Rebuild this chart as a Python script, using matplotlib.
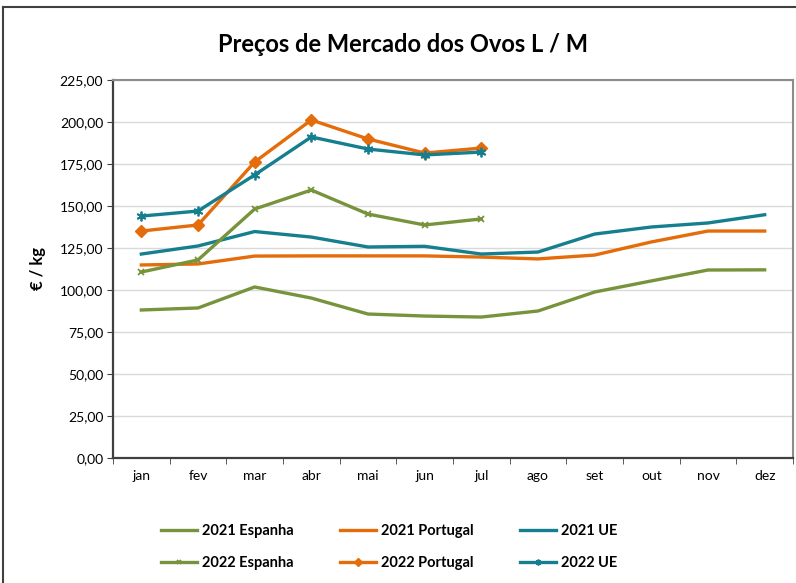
import matplotlib
matplotlib.use("Agg")
import matplotlib.pyplot as plt
from matplotlib.lines import Line2D

months = ["jan", "fev", "mar", "abr", "mai", "jun", "jul", "ago", "set", "out", "nov", "dez"]
esp_2021 = [88.1, 89.3, 101.8, 95.2, 85.7, 84.5, 83.9, 87.5, 98.8, 105.4, 111.9, 112.0]
por_2021 = [114.9, 115.5, 120.2, 120.3, 120.3, 120.3, 119.6, 118.5, 120.8, 128.6, 135.1, 135.1]
ue_2021 = [121.4, 126.2, 134.8, 131.5, 125.6, 126.0, 121.4, 122.6, 133.3, 137.5, 139.9, 144.8]
esp_2022 = [110.7, 117.9, 148.2, 159.5, 145.2, 138.7, 142.3]
por_2022 = [135.1, 138.7, 176.2, 201.2, 189.9, 181.5, 184.5]
ue_2022 = [144.0, 147.0, 168.5, 191.1, 183.9, 180.4, 182.1]
yticks = [0, 25, 50, 75, 100, 125, 150, 175, 200, 225]

GREEN = "#77933C"
ORANGE = "#E46C0A"
TEAL = "#157F8F"

plt.rcParams['font.family'] = ['Lato', 'DejaVu Sans']

fig = plt.figure(figsize=(7.96, 5.83), dpi=100)
ax = fig.add_axes([113/796, 1-458/583, (793-113)/796, (458-80)/583])

x = list(range(len(months)))
lw = 2.4
ax.plot(x, esp_2021, color=GREEN, lw=lw, label="2021 Espanha", zorder=3)
ax.plot(x, por_2021, color=ORANGE, lw=lw, label="2021 Portugal", zorder=3)
ax.plot(x, ue_2021, color=TEAL, lw=lw, label="2021 UE", zorder=3)
x2 = x[:len(esp_2022)]
ax.plot(x2, esp_2022, color=GREEN, lw=lw, marker="x", ms=5, mew=1.3, label="2022 Espanha", zorder=4)
ax.plot(x2, por_2022, color=ORANGE, lw=lw, marker="D", ms=6.5, label="2022 Portugal", zorder=4)
ax.plot(x2, ue_2022, color=TEAL, lw=lw, marker=(6, 2, 0), ms=7, mew=1.3, label="2022 UE", zorder=4)

ax.set_xlim(-0.5, len(months) - 0.5)
ax.set_ylim(0, 225)
ax.set_yticks(yticks)
ax.set_yticklabels([f"{v:.2f}".replace(".", ",") for v in yticks], fontsize=10)
ax.set_xticks(x)
ax.set_xticklabels(months, fontsize=10)
ax.tick_params(axis="x", length=0, pad=9)
ax.set_xticks([i + 0.5 for i in range(-1, len(months))], minor=True)
ax.tick_params(axis="x", which="minor", length=4, direction="out", color="#404040")
ax.tick_params(axis="y", length=4, direction="out", color="#404040", pad=3)
ax.grid(axis="y", color="#D9D9D9", lw=1, zorder=0)
for s in ["left", "bottom"]:
    ax.spines[s].set_color("#404040")
    ax.spines[s].set_linewidth(1.6)
for s in ["top", "right"]:
    ax.spines[s].set_color("#8C8C8C")
    ax.spines[s].set_linewidth(1.5)

ax.set_ylabel("€ / kg", fontsize=12, fontweight="bold", labelpad=10)
fig.text(403/796, 1-45/583, "Preços de Mercado dos Ovos L / M", ha="center", va="center",
         fontsize=17, fontweight="bold")

handles, labels = ax.get_legend_handles_labels()
order = [0, 3, 1, 4, 2, 5]
leg = fig.legend([handles[i] for i in order], [labels[i] for i in order], ncol=3,
                 loc="center", bbox_to_anchor=(389/796, 1-547/583), frameon=False,
                 prop={"weight": "bold", "size": 10.5}, handlelength=2.5,
                 columnspacing=3.2, labelspacing=1.2, handletextpad=0.3, markerscale=0.6)

# figure border (top and left visible)
fig.add_artist(Line2D([3/796, 3/796], [0, 1-7/583], color="#404040", lw=1.5, transform=fig.transFigure))
fig.add_artist(Line2D([3/796, 1], [1-7/583, 1-7/583], color="#404040", lw=1.5, transform=fig.transFigure))

fig.savefig("out.png", dpi=100)
